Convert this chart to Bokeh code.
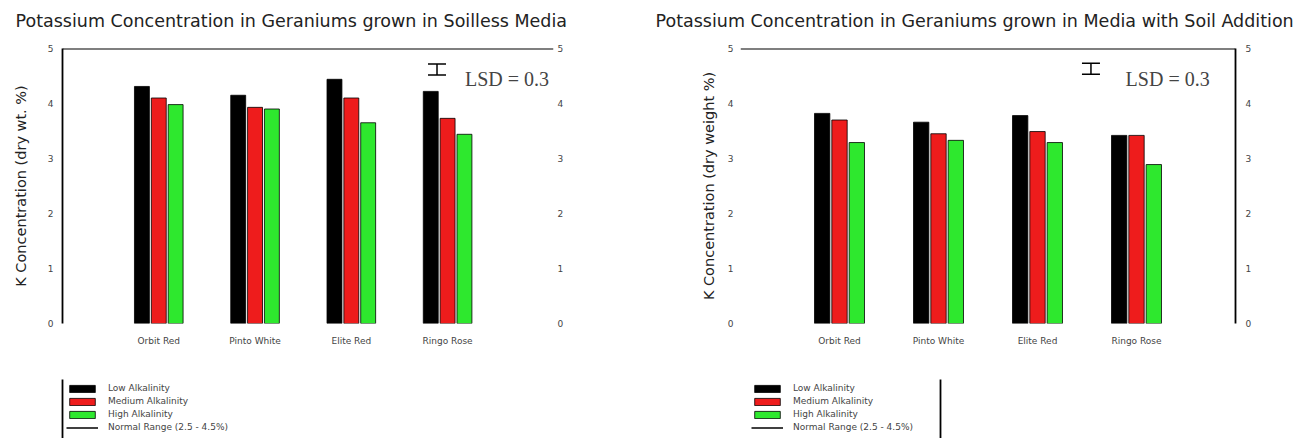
from bokeh.plotting import figure
from bokeh.models import (ColumnDataSource, Range1d, LinearAxis, FixedTicker, Span,
                          Whisker, TeeHead, Label, Legend, LegendItem)
from bokeh.transform import dodge
from bokeh.layouts import row, column
from bokeh.embed import file_html
from bokeh.resources import INLINE

# ---------------- data ----------------
cultivars = ["Orbit Red", "Pinto White", "Elite Red", "Ringo Rose"]
y_ticks = [0, 1, 2, 3, 4, 5]
series_names = ["Low Alkalinity", "Medium Alkalinity", "High Alkalinity"]
range_name = "Normal Range (2.5 - 4.5%)"

soilless_low = [4.31, 4.15, 4.44, 4.22]
soilless_med = [4.10, 3.93, 4.10, 3.73]
soilless_high = [3.98, 3.90, 3.65, 3.44]

soil_low = [3.82, 3.66, 3.78, 3.42]
soil_med = [3.70, 3.45, 3.49, 3.42]
soil_high = [3.29, 3.33, 3.29, 2.89]

lsd_value = 0.3
lsd_marker = 0.2  # height of the LSD marker as drawn in the picture

titles = ["Potassium Concentration in Geraniums grown in Soilless Media",
          "Potassium Concentration in Geraniums grown in Media with Soil Addition"]
y_labels = ["K Concentration (dry wt. %)", "K Concentration (dry weight %)"]

# ---------------- style ----------------
COLORS = ["#000000", "#ee1c1c", "#2ee82e"]
FONT = "DejaVu Sans"
NAN = float("nan")


def make_title(text, width):
    p = figure(width=width, height=40, x_range=Range1d(0, 1), y_range=Range1d(0, 1),
               output_backend="svg", toolbar_location=None,
               min_border_left=0, min_border_right=0, min_border_top=0, min_border_bottom=0,
               x_axis_location=None, y_axis_location=None)
    p.outline_line_color = None
    p.xgrid.visible = False
    p.ygrid.visible = False
    p.add_layout(Label(x=15, y=20, x_units="screen", y_units="screen", text=text,
                       text_font=FONT, text_font_size="17.5px", text_color="#222222",
                       text_align="left", text_baseline="middle"))
    return p


def make_chart(ylabel, low, med, high, width, border_left, border_right, xr,
               lsd_xy, lsd_text_xy, left_line, right_line, label_standoff, tick_standoff):
    xpos = list(range(1, len(cultivars) + 1))
    src = ColumnDataSource(dict(x=xpos, low=low, med=med, high=high))
    p = figure(width=width, height=330, x_range=Range1d(*xr), y_range=Range1d(0, 5),
               output_backend="svg", toolbar_location=None,
               min_border_left=border_left, min_border_right=border_right,
               min_border_top=8, min_border_bottom=47)
    p.outline_line_color = None
    p.xgrid.visible = False
    p.ygrid.visible = False
    p.background_fill_color = "white"
    p.border_fill_color = "white"

    for col, off, color in zip(["low", "med", "high"], [-0.175, 0.0, 0.175], COLORS):
        p.vbar(x=dodge("x", off, range=p.x_range), top=col, width=0.155, bottom=0,
               source=src, fill_color=color, line_color="black", line_width=0.8)

    # x axis
    xa = p.xaxis[0]
    xa.ticker = FixedTicker(ticks=xpos)
    xa.major_label_overrides = {x: c for x, c in zip(xpos, cultivars)}
    xa.axis_line_color = None
    xa.major_tick_in = 0
    xa.major_tick_out = 0
    xa.minor_tick_line_color = None
    xa.major_label_standoff = 12
    xa.major_label_text_font = FONT
    xa.major_label_text_font_size = "9px"

    # left axis
    ya = p.yaxis[0]
    ya.ticker = FixedTicker(ticks=y_ticks)
    ya.axis_label = ylabel
    ya.axis_label_text_font = FONT
    ya.axis_label_text_font_size = "14.5px"
    ya.axis_label_text_font_style = "normal"
    ya.axis_label_text_color = "#222222"
    ya.axis_label_standoff = label_standoff
    ya.major_label_text_font = FONT
    ya.major_label_text_font_size = "9px"
    ya.major_label_standoff = tick_standoff
    ya.major_tick_in = 0
    ya.major_tick_out = 0
    ya.minor_tick_line_color = None
    ya.axis_line_width = 1.8
    if not left_line:
        ya.axis_line_color = None

    # right axis
    ra = LinearAxis(ticker=FixedTicker(ticks=y_ticks))
    ra.major_label_text_font = FONT
    ra.major_label_text_font_size = "9px"
    ra.major_label_standoff = 4 if not right_line else 10
    ra.major_tick_in = 0
    ra.major_tick_out = 0
    ra.minor_tick_line_color = None
    ra.axis_line_width = 1.8
    if not right_line:
        ra.axis_line_color = None
    p.add_layout(ra, "right")

    # top border line
    p.add_layout(Span(location=5, dimension="width", line_color="black", line_width=1.8))

    # LSD marker and text
    lx, ly = lsd_xy
    wsrc = ColumnDataSource(dict(x=[lx], lower=[ly - lsd_marker / 2], upper=[ly + lsd_marker / 2]))
    p.add_layout(Whisker(source=wsrc, base="x", lower="lower", upper="upper", dimension="height",
                         line_width=1.5,
                         lower_head=TeeHead(size=18, line_width=1.5),
                         upper_head=TeeHead(size=18, line_width=1.5)))
    p.add_layout(Label(x=lsd_text_xy[0], y=lsd_text_xy[1], text=f"LSD = {lsd_value}",
                       text_font="Liberation Serif", text_font_size="20px",
                       text_baseline="middle", text_align="left"))
    return p


def make_legend(width, border_left, frame_width, border_top, side, margin):
    p = figure(width=width, height=68, x_range=Range1d(0, 1), y_range=Range1d(0, 1),
               output_backend="svg", toolbar_location=None,
               min_border_left=border_left, min_border_right=width - border_left - frame_width,
               min_border_top=border_top, min_border_bottom=0,
               x_axis_location=None, y_axis_location=side)
    p.outline_line_color = None
    p.xgrid.visible = False
    p.ygrid.visible = False
    ax = p.yaxis[0]
    ax.ticker = FixedTicker(ticks=[])
    ax.major_tick_in = 0
    ax.major_tick_out = 0
    ax.minor_tick_line_color = None
    ax.axis_line_width = 1.8
    # off-range placeholder glyphs so the legend can draw its swatches
    renderers = [p.vbar(x=[NAN], top=[NAN], width=0.1, fill_color=c, line_color="black",
                        line_width=0.8) for c in COLORS]
    renderers.append(p.line(x=[NAN, NAN], y=[NAN, NAN], line_color="black", line_width=1.5))
    names = series_names + [range_name]
    leg = Legend(items=[LegendItem(label=n, renderers=[r]) for n, r in zip(names, renderers)],
                 location="top_left", orientation="vertical",
                 glyph_width=32, glyph_height=9, label_height=9, spacing=3, padding=8,
                 margin=margin, label_text_font=FONT, label_text_font_size="9px",
                 label_standoff=10, border_line_color=None, background_fill_alpha=0)
    p.add_layout(leg)
    return p


t1 = make_title(titles[0], 640)
t2 = make_title(titles[1], 663)

p1 = make_chart(y_labels[0], soilless_low, soilless_med, soilless_high,
                width=640, border_left=62, border_right=87, xr=(0, 5.1),
                lsd_xy=(3.89, 4.62), lsd_text_xy=(4.18, 4.45),
                left_line=True, right_line=False, label_standoff=16, tick_standoff=9)
p2 = make_chart(y_labels[1], soil_low, soil_med, soil_high,
                width=663, border_left=100, border_right=68, xr=(0, 5),
                lsd_xy=(3.54, 4.63), lsd_text_xy=(3.89, 4.45),
                left_line=False, right_line=True, label_standoff=8, tick_standoff=7)

l1 = make_legend(640, 62, 300, 9, "left", 4)
l2 = make_legend(663, 107, 193, 7, "right", 4)

layout = column(row(t1, t2), row(p1, p2), row(l1, l2))
open("out.html", "w").write(file_html(layout, INLINE))
